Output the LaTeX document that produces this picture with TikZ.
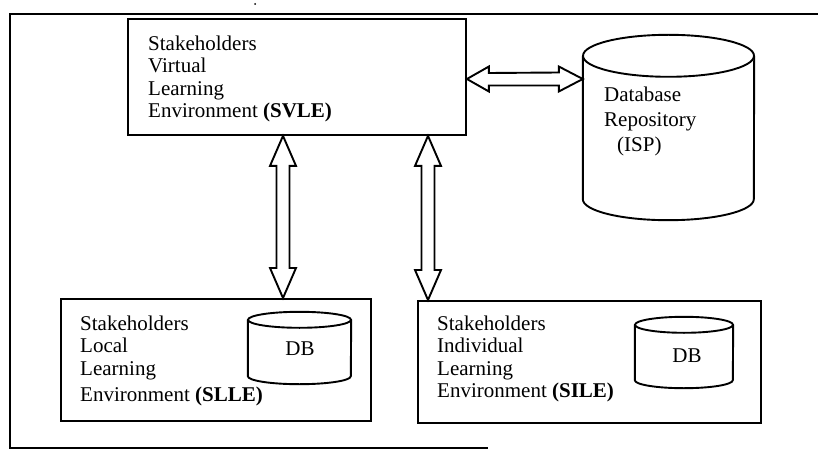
\documentclass[tikz,border=0pt]{standalone}
\usepackage{fontspec}
\setmainfont{Liberation Serif}
\usetikzlibrary{calc}

\tikzset{
    boxline/.style={line width=1.9pt},
    panel/.style={draw, boxline, rectangle, inner sep=0pt, anchor=north west},
    boxtext/.style={anchor=north west, align=left, inner sep=0pt,
        font=\fontsize{21}{22.5}\selectfont},
    dbtext/.style={anchor=base, inner sep=0pt,
        font=\fontsize{21}{22.5}\selectfont},
}

% hollow double arrows, tip to tip
\newcommand{\vdouble}[2]{%
    \draw[boxline, line join=miter] (#1) -- ++(13,30) -- ++(-6.5,0)
        -- ($(#2)+(6.5,-30)$) -- ++(6.5,0) -- (#2) -- ++(-13,-30)
        -- ++(6.5,0) -- ($(#1)+(-6.5,30)$) -- ++(-6.5,0) -- cycle;}
\newcommand{\hdouble}[2]{%
    \draw[boxline, line join=miter] (#1) -- ++(22,-12.5) -- ++(0,6.5)
        -- ($(#2)+(-24,-6.5)$) -- ++(0,-6) -- (#2) -- ++(-24,12.5)
        -- ++(0,-6) -- ($(#1)+(22,6.5)$) -- ++(0,6) -- cycle;}

% cylinder: name, centre, x radius, body height, y radius
\newcommand{\dbcyl}[5]{%
    \node[inner sep=0pt, minimum width=2*#3, minimum height=#4] (#1) at (#2) {};
    \draw[boxline] (#1.north west) -- (#1.south west)
        arc[start angle=180, end angle=360, x radius=#3, y radius=#5]
        -- (#1.north east);
    \draw[boxline] (#1.north) ellipse[x radius=#3, y radius=#5];}

\begin{document}
\begin{tikzpicture}[x=1pt, y=-1pt]

    \useasboundingbox (0,0) rectangle (818,457);

    % Outer frame (open on the right)
    \draw[boxline] (818,14) -- (10,14) -- (10,448) -- (488,448);
    \fill (255,4) circle (1pt);

    % Virtual learning environment
    \node[panel, minimum width=338pt, minimum height=116pt] (svle) at (127,18) {};
    \node[boxtext] (svletext) at (148,35.7)
        {Stakeholders\\ Virtual\\ Learning\\ Environment \textbf{(SVLE)}};

    % Repository
    \dbcyl{isp}{668.5,127.5}{85.5pt}{143pt}{21pt}
    \node[boxtext] (isptext) at (604,86.7)
        {Database\\[2.5pt] Repository\\[2.5pt] \hspace*{13pt}(ISP)};

    % Local learning environment
    \node[panel, minimum width=310pt, minimum height=122pt] (slle) at (60,298) {};
    \node[boxtext] (slletext) at (80,315.7)
        {Stakeholders\\ Local\\ Learning\\[4pt] Environment \textbf{(SLLE)}};
    \dbcyl{slledb}{299.5,348}{51.5pt}{56pt}{8pt}
    \node[dbtext] (slledbtext) at (300,355) {DB};

    % Individual learning environment
    \node[panel, minimum width=343pt, minimum height=122pt] (sile) at (417,300) {};
    \node[boxtext] (siletext) at (437,315.7)
        {Stakeholders\\ Individual\\ Learning\\ Environment \textbf{(SILE)}};
    \dbcyl{siledb}{684,352.5}{49pt}{55pt}{8pt}
    \node[dbtext] (siledbtext) at (687,362) {DB};

    % Links
    \coordinate (vone) at (283,0);
    \coordinate (vtwo) at (428,0);
    \coordinate (hone) at (0,79);
    \vdouble{vone |- svle.south}{vone |- slle.north}
    \vdouble{vtwo |- svle.south}{vtwo |- sile.north}
    \hdouble{hone -| svle.east}{hone -| isp.west}

\end{tikzpicture}
\end{document}
